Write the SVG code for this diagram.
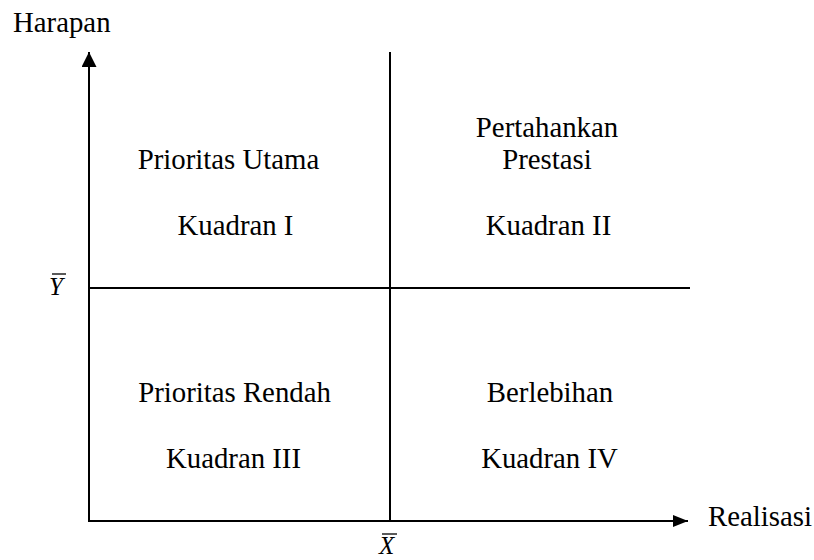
<svg xmlns="http://www.w3.org/2000/svg" width="814" height="560" viewBox="0 0 814 560">
<style>
text{font-family:"Liberation Serif","Times New Roman",serif;font-size:28.8px;fill:#000}
.c{text-anchor:middle}
.m{font-style:italic;font-size:25px}
line{stroke:#000;stroke-width:2}
.bar{stroke-width:1.3}
</style>
<defs>
<marker id="au" viewBox="0 0 15 15" refX="15" refY="7.5" markerWidth="15" markerHeight="15" markerUnits="userSpaceOnUse" orient="auto">
<path d="M0,0 L15,7.5 L0,15 z" fill="#000"/>
</marker>
<marker id="ar" viewBox="0 0 15 12" refX="15" refY="6" markerWidth="15" markerHeight="12" markerUnits="userSpaceOnUse" orient="auto">
<path d="M0,0 L15,6 L0,12 z" fill="#000"/>
</marker>
</defs>
<g id="connectors">
<line x1="89" y1="522" x2="89" y2="52" marker-end="url(#au)"/>
<line x1="88" y1="521" x2="688" y2="521" marker-end="url(#ar)"/>
<line x1="390" y1="52" x2="390" y2="521"/>
<line x1="89" y1="288" x2="690" y2="288"/>
</g>
<g id="labels">
<text x="13" y="32">Harapan</text>
<text x="708" y="526">Realisasi</text>
<text class="m" x="49" y="295">Y</text>
<line class="bar" x1="52" y1="274" x2="66" y2="274"/>
<text class="m" x="379" y="554">X</text>
<line class="bar" x1="382" y1="534" x2="397" y2="534"/>
</g>
<g id="q1">
<text class="c" x="228.5" y="169">Prioritas Utama</text>
<text class="c" x="235.5" y="235">Kuadran I</text>
</g>
<g id="q2">
<text class="c" x="547" y="137">Pertahankan</text>
<text class="c" x="547" y="169">Prestasi</text>
<text class="c" x="548.5" y="235">Kuadran II</text>
</g>
<g id="q3">
<text class="c" x="234.5" y="402">Prioritas Rendah</text>
<text class="c" x="233.5" y="468">Kuadran III</text>
</g>
<g id="q4">
<text class="c" x="550" y="402">Berlebihan</text>
<text class="c" x="549.5" y="468">Kuadran IV</text>
</g>
</svg>
